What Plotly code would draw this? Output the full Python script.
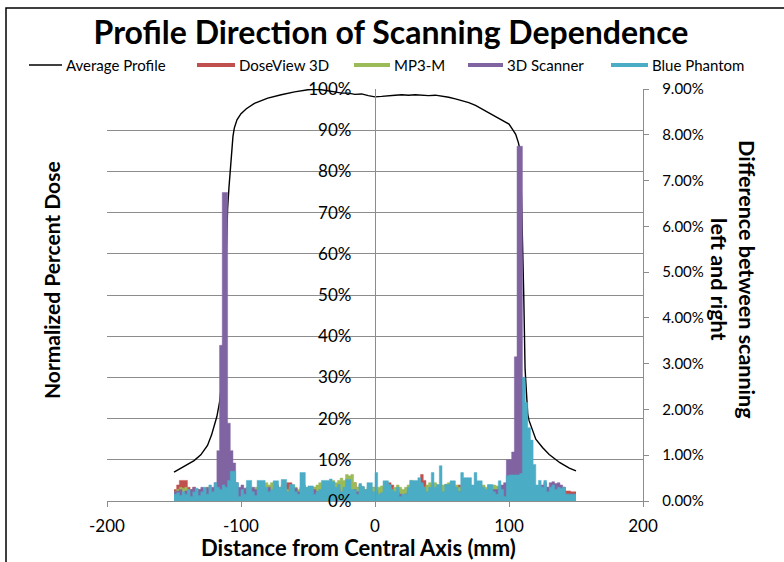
import plotly.graph_objects as go

# ---------------- data ----------------
profile_x = [-150, -145, -140, -135, -130, -125, -122, -120, -118, -116, -114, -113, -112, -111, -110,
             -109, -108, -107, -106, -105, -103, -100, -96, -90, -80, -70, -60, -50, -45, -40, -35,
             -30, -25, -20, -15, -10, -5, 0, 5, 10, 15, 20, 25, 30, 35, 40, 45, 50, 55, 60, 65, 70,
             75, 80, 85, 90, 95, 100, 103, 105, 107, 108, 109, 110, 111, 112, 113, 114, 115, 117,
             120, 125, 130, 138, 145, 150]
profile_y = [7.0, 8.0, 8.8, 9.8, 11.2, 13.5, 16.0, 18.0, 20.5, 24.0, 30.0, 38.0, 50.0, 62.0, 71.0,
             76.0, 80.0, 85.0, 88.5, 90.5, 92.5, 94.0, 95.2, 96.5, 97.8, 98.6, 99.3, 99.8, 99.9, 99.8, 99.6,
             99.3, 99.0, 99.0, 98.7, 98.8, 98.4, 98.1, 98.2, 98.4, 98.5, 98.6, 98.5, 98.6, 98.5, 98.4, 98.5,
             98.3, 98.0, 97.6, 97.2, 96.7, 96.0, 95.2, 94.2, 93.3, 92.4, 91.5, 90.0, 89.0, 87.0, 85.5,
             78.0, 66.0, 50.0, 32.0, 26.0, 21.0, 19.5, 17.5, 15.0, 13.0, 11.3, 9.3, 8.0, 7.3]

diff_x = list(range(-150, 151, 2))

doseview_3d = [
    0.25, 0.35, 0.45, 0.45, 0.45, 0.30, 0.25, 0.30, 0.20, 0.25,
    0.20, 0.25, 0.30, 0.20, 0.25, 0.30, 0.35, 0.30, 0.25, 0.30,
    0.30, 0.35, 0.30, 0.25, 0.20, 0.15, 0.20, 0.30, 0.25, 0.20,
    0.20, 0.30, 0.35, 0.30, 0.25, 0.20, 0.25, 0.30, 0.35, 0.25,
    0.30, 0.35, 0.40, 0.40, 0.30, 0.25, 0.20, 0.30, 0.35, 0.25,
    0.20, 0.25, 0.30, 0.25, 0.20, 0.30, 0.35, 0.30, 0.25, 0.30,
    0.25, 0.30, 0.35, 0.30, 0.25, 0.30, 0.35, 0.40, 0.30, 0.25,
    0.30, 0.25, 0.20, 0.25, 0.30, 0.25, 0.20, 0.25, 0.30, 0.35,
    0.40, 0.35, 0.25, 0.30, 0.25, 0.20, 0.25, 0.30, 0.35, 0.30,
    0.30, 0.40, 0.58, 0.45, 0.30, 0.25, 0.30, 0.35, 0.30, 0.35,
    0.25, 0.15, 0.20, 0.30, 0.25, 0.30, 0.35, 0.30, 0.25, 0.30,
    0.30, 0.25, 0.30, 0.35, 0.33, 0.33, 0.25, 0.20, 0.25, 0.20,
    0.20, 0.25, 0.30, 0.25, 0.30, 0.35, 0.40, 0.45, 0.50, 0.55,
    0.60, 0.50, 0.40, 0.35, 0.30, 0.30, 0.25, 0.30, 0.25, 0.30,
    0.25, 0.30, 0.25, 0.30, 0.25, 0.30, 0.22, 0.22, 0.20, 0.20,
    0.20]

mp3_m = [
    0.20, 0.25, 0.30, 0.28, 0.30, 0.25, 0.20, 0.25, 0.22, 0.20,
    0.25, 0.20, 0.25, 0.30, 0.25, 0.20, 0.25, 0.30, 0.25, 0.20,
    0.25, 0.30, 0.25, 0.20, 0.25, 0.30, 0.25, 0.20, 0.30, 0.25,
    0.30, 0.25, 0.30, 0.35, 0.40, 0.35, 0.40, 0.30, 0.25, 0.30,
    0.35, 0.30, 0.25, 0.30, 0.35, 0.30, 0.25, 0.30, 0.35, 0.30,
    0.30, 0.25, 0.30, 0.35, 0.40, 0.35, 0.40, 0.35, 0.40, 0.45,
    0.40, 0.45, 0.50, 0.45, 0.58, 0.55, 0.58, 0.40, 0.30, 0.35,
    0.30, 0.25, 0.30, 0.28, 0.30, 0.25, 0.30, 0.33, 0.30, 0.25,
    0.30, 0.25, 0.30, 0.35, 0.30, 0.25, 0.30, 0.35, 0.45, 0.40,
    0.35, 0.30, 0.35, 0.30, 0.35, 0.40, 0.35, 0.40, 0.35, 0.30,
    0.35, 0.37, 0.40, 0.35, 0.30, 0.35, 0.30, 0.25, 0.30, 0.35,
    0.30, 0.25, 0.30, 0.25, 0.30, 0.35, 0.30, 0.35, 0.33, 0.35,
    0.33, 0.30, 0.25, 0.30, 0.35, 0.30, 0.35, 0.40, 0.45, 0.50,
    0.50, 0.40, 0.35, 0.30, 0.25, 0.30, 0.25, 0.20, 0.25, 0.20,
    0.25, 0.20, 0.25, 0.20, 0.15, 0.20, 0.15, 0.12, 0.10, 0.10,
    0.10]

scanner_3d = [
    0.20, 0.22, 0.25, 0.18, 0.22, 0.20, 0.25, 0.30, 0.22, 0.25,
    0.30, 0.22, 0.28, 0.25, 0.30, 0.40, 1.10, 3.40, 6.74, 6.74,
    1.70, 1.10, 0.83, 0.40, 0.30, 0.35, 0.28, 0.20, 0.15, 0.30,
    0.25, 0.20, 0.30, 0.15, 0.25, 0.30, 0.20, 0.15, 0.25, 0.20,
    0.30, 0.20, 0.15, 0.25, 0.20, 0.28, 0.20, 0.15, 0.20, 0.25,
    0.20, 0.15, 0.25, 0.20, 0.18, 0.22, 0.15, 0.20, 0.25, 0.15,
    0.20, 0.25, 0.15, 0.20, 0.22, 0.15, 0.20, 0.25, 0.20, 0.15,
    0.20, 0.15, 0.25, 0.20, 0.15, 0.20, 0.12, 0.15, 0.20, 0.25,
    0.15, 0.20, 0.15, 0.20, 0.15, 0.12, 0.15, 0.20, 0.15, 0.20,
    0.20, 0.15, 0.20, 0.15, 0.18, 0.20, 0.15, 0.20, 0.15, 0.20,
    0.15, 0.20, 0.18, 0.15, 0.20, 0.15, 0.20, 0.15, 0.20, 0.25,
    0.20, 0.15, 0.20, 0.25, 0.20, 0.15, 0.20, 0.25, 0.20, 0.25,
    0.25, 0.30, 0.35, 0.40, 0.90, 0.90, 1.07, 3.15, 7.75, 7.75,
    2.70, 1.00, 0.60, 0.40, 0.30, 0.25, 0.30, 0.35, 0.40, 0.30,
    0.40, 0.42, 0.38, 0.40, 0.35, 0.30, 0.15, 0.15, 0.15, 0.15,
    0.15]

blue_phantom = [
    0.15, 0.18, 0.12, 0.20, 0.15, 0.25, 0.10, 0.20, 0.28, 0.12,
    0.20, 0.30, 0.15, 0.35, 0.20, 0.40, 0.30, 0.25, 0.35, 0.30,
    0.45, 0.65, 0.65, 0.40, 0.10, 0.25, 0.15, 0.45, 0.45, 0.20,
    0.12, 0.45, 0.45, 0.45, 0.30, 0.20, 0.25, 0.44, 0.44, 0.30,
    0.47, 0.47, 0.20, 0.36, 0.36, 0.20, 0.15, 0.62, 0.62, 0.30,
    0.33, 0.33, 0.15, 0.20, 0.25, 0.45, 0.45, 0.45, 0.48, 0.42,
    0.30, 0.36, 0.20, 0.30, 0.47, 0.47, 0.25, 0.25, 0.15, 0.38,
    0.32, 0.25, 0.40, 0.40, 0.20, 0.62, 0.15, 0.18, 0.44, 0.44,
    0.36, 0.25, 0.20, 0.30, 0.10, 0.15, 0.15, 0.30, 0.45, 0.45,
    0.45, 0.51, 0.40, 0.30, 0.20, 0.30, 0.62, 0.30, 0.36, 0.77,
    0.20, 0.36, 0.36, 0.44, 0.44, 0.30, 0.20, 0.62, 0.51, 0.51,
    0.51, 0.35, 0.62, 0.44, 0.44, 0.30, 0.25, 0.36, 0.36, 0.20,
    0.15, 0.44, 0.25, 0.10, 0.55, 0.57, 0.57, 0.57, 0.57, 0.60,
    2.70, 2.15, 1.60, 1.33, 0.80, 0.35, 0.45, 0.30, 0.45, 0.20,
    0.30, 0.35, 0.25, 0.30, 0.28, 0.30, 0.15, 0.15, 0.15, 0.15,
    0.15]

series_names = ["DoseView 3D", "MP3-M", "3D Scanner", "Blue Phantom"]
series_vals = [doseview_3d, mp3_m, scanner_3d, blue_phantom]
series_colors = ["#C0504D", "#9BBB59", "#8064A2", "#4BACC6"]

left_ticks = [0, 10, 20, 30, 40, 50, 60, 70, 80, 90, 100]
left_tick_labels = ["0%", "10%", "20%", "30%", "40%", "50%", "60%", "70%", "80%", "90%", "100%"]
right_ticks = [0, 1, 2, 3, 4, 5, 6, 7, 8, 9]
right_tick_labels = ["0.00%", "1.00%", "2.00%", "3.00%", "4.00%", "5.00%", "6.00%", "7.00%",
                     "8.00%", "9.00%"]
x_ticks = [-200, -100, 0, 100, 200]
x_tick_labels = ["-200", "-100", "0", "100", "200"]

# ---------------- figure ----------------
FONT = "Lato"
W, H = 784, 562
L, R, T, B = 107, 141, 89, 61
pw, ph = W - L - R, H - T - B


def px_x(p):
    return (p - L) / pw


def px_y(p):
    return (H - B - p) / ph


fig = go.Figure()

fig.add_trace(go.Scatter(x=profile_x, y=profile_y, mode="lines", name="Average Profile",
                         line=dict(color="black", width=1.4), yaxis="y", showlegend=False))

for name, vals, col in zip(series_names, series_vals, series_colors):
    fig.add_trace(go.Scatter(x=diff_x, y=vals, mode="lines", name=name,
                             line=dict(color=col, width=0.5, shape="hv"),
                             fill="tozeroy", fillcolor=col, yaxis="y2", showlegend=False))

grid_col = "#8c8c8c"

fig.update_layout(
    width=W, height=H,
    margin=dict(l=L, r=R, t=T, b=B),
    paper_bgcolor="white", plot_bgcolor="white",
    font=dict(family=FONT, color="black"),
    title=dict(text="<b>Profile Direction of Scanning Dependence</b>",
               x=391 / W, xref="container", xanchor="center",
               y=1 - 33 / H, yref="container", yanchor="middle",
               font=dict(size=32, family=FONT, color="black")),
    showlegend=False,
    xaxis=dict(range=[-200, 200], tickvals=x_ticks, ticktext=x_tick_labels, showgrid=False,
               zeroline=False, showline=True, linecolor=grid_col, linewidth=1.3, ticks="outside",
               ticklen=5, tickcolor=grid_col, ticklabelstandoff=4,
               tickfont=dict(size=17, family=FONT)),
    yaxis=dict(range=[0, 100], tickvals=left_ticks, ticktext=left_tick_labels, anchor="free",
               position=0.5, side="left", showgrid=True, gridcolor=grid_col, gridwidth=1.3,
               zeroline=False, showline=True, linecolor=grid_col, linewidth=1.3,
               ticks="", ticklabelstandoff=20, tickfont=dict(size=17, family=FONT)),
    yaxis2=dict(range=[0, 9], tickvals=right_ticks, ticktext=right_tick_labels,
                overlaying="y", side="right", anchor="x", showgrid=False, zeroline=False,
                showline=True, linecolor=grid_col, linewidth=1.3, ticks="outside",
                ticklen=5, tickcolor=grid_col, ticklabelstandoff=10,
                tickfont=dict(size=15, family=FONT)),
)

fig.add_annotation(text="<b>Normalized Percent Dose</b>", xref="paper", yref="paper",
                   x=px_x(51), y=px_y(280), xanchor="center", yanchor="middle",
                   textangle=-90, showarrow=False, font=dict(size=21, family=FONT))
fig.add_annotation(text="<b>Difference between scanning<br>left and right</b>", xref="paper",
                   yref="paper", x=px_x(733), y=px_y(279), xanchor="center", yanchor="middle",
                   textangle=90, showarrow=False, font=dict(size=21.5, family=FONT))
fig.add_annotation(text="<b>Distance from Central Axis (mm)</b>", xref="paper", yref="paper",
                   x=px_x(358), y=px_y(547), xanchor="center", yanchor="middle",
                   showarrow=False, font=dict(size=22, family=FONT))

# manual one-row legend
legend_names = ["Average Profile"] + series_names
legend_colors = ["black"] + series_colors
legend_widths = [1.5, 4, 4, 4, 4]
legend_line_px = [(29, 62), (197, 235), (354, 390), (468, 503), (611, 648)]
for nm, col, lw, (a, b) in zip(legend_names, legend_colors, legend_widths, legend_line_px):
    fig.add_shape(type="line", xref="paper", yref="paper", x0=px_x(a), x1=px_x(b),
                  y0=px_y(65), y1=px_y(65), line=dict(color=col, width=lw))
    fig.add_annotation(text=nm, xref="paper", yref="paper", x=px_x(b + 2), y=px_y(65),
                       xanchor="left", yanchor="middle", showarrow=False,
                       font=dict(size=15, family=FONT))

# chart-area frame
fig.add_shape(type="rect", xref="paper", yref="paper", x0=px_x(6), x1=px_x(800),
              y0=px_y(600), y1=px_y(8), line=dict(color="black", width=1.5))

fig.write_html("out.html", config={"displayModeBar": False},
               post_script="document.body.style.margin='0';")
